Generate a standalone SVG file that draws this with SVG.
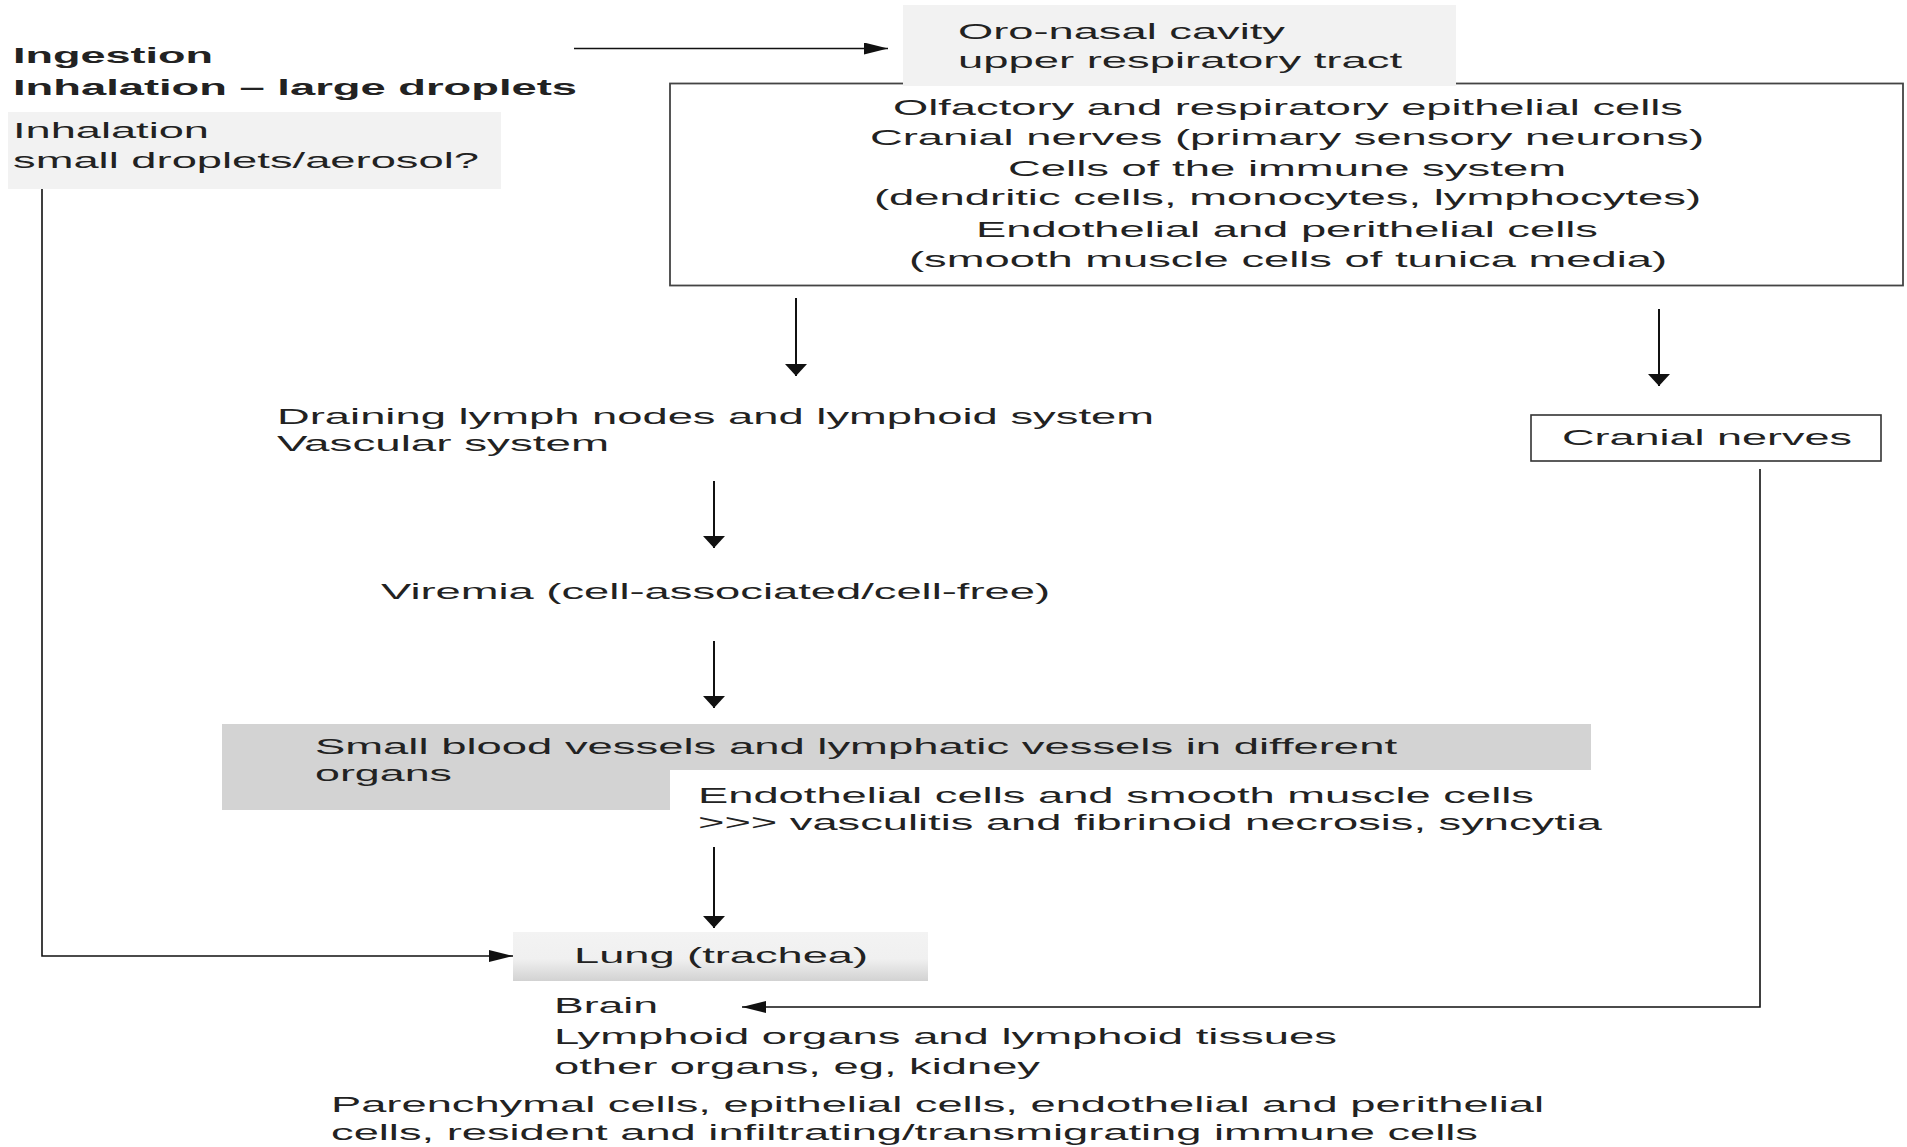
<svg xmlns="http://www.w3.org/2000/svg" width="1907" height="1147" viewBox="0 0 1907 1147">
<defs>
<style>
text{font-family:"Liberation Sans",Arial,sans-serif;font-size:22px;fill:#222}
.b{font-weight:bold}
.v{stroke:#111;stroke-width:2;fill:none}
.h{stroke:#111;stroke-width:1.4;fill:none}
.p{stroke:#111;stroke-width:1.6;fill:none}
</style>
<marker id="ah" markerUnits="userSpaceOnUse" viewBox="0 0 24 12" refX="24" refY="6" markerWidth="24" markerHeight="12" orient="auto"><path d="M0,0 L24,6 L0,12 Z" fill="#111"/></marker>
<marker id="av" markerUnits="userSpaceOnUse" viewBox="0 0 12 22" refX="12" refY="11" markerWidth="12" markerHeight="22" orient="auto"><path d="M0,0 L12,11 L0,22 Z" fill="#111"/></marker>
<linearGradient id="lg" x1="0" y1="0" x2="0" y2="1"><stop offset="0" stop-color="#f3f3f3"/><stop offset="0.55" stop-color="#f0f0f0"/><stop offset="1" stop-color="#d2d2d2"/></linearGradient>
</defs>
<rect width="1907" height="1147" fill="#fff"/>
<g id="ingestion">
<text class="b" x="13" y="63" textLength="200" lengthAdjust="spacingAndGlyphs">Ingestion</text>
<text class="b" x="13" y="95" textLength="564" lengthAdjust="spacingAndGlyphs">Inhalation – large droplets</text>
</g>
<g id="inhalation-small">
<rect x="8" y="112" width="493" height="77" fill="#f2f2f2"/>
<text x="13" y="138" textLength="196" lengthAdjust="spacingAndGlyphs">Inhalation</text>
<text x="13" y="167.5" textLength="466" lengthAdjust="spacingAndGlyphs">small droplets/aerosol?</text>
</g>
<g id="cells-box">
<rect x="670" y="83.5" width="1233" height="202" fill="#fff" stroke="#444" stroke-width="1.8"/>
<text x="893" y="114.7" textLength="790" lengthAdjust="spacingAndGlyphs">Olfactory and respiratory epithelial cells</text>
<text x="870" y="144.5" textLength="834" lengthAdjust="spacingAndGlyphs">Cranial nerves (primary sensory neurons)</text>
<text x="1008" y="175.5" textLength="558" lengthAdjust="spacingAndGlyphs">Cells of the immune system</text>
<text x="874" y="205" textLength="827" lengthAdjust="spacingAndGlyphs">(dendritic cells, monocytes, lymphocytes)</text>
<text x="976" y="236.5" textLength="622" lengthAdjust="spacingAndGlyphs">Endothelial and perithelial cells</text>
<text x="909" y="266.7" textLength="758" lengthAdjust="spacingAndGlyphs">(smooth muscle cells of tunica media)</text>
</g>
<g id="oro-nasal">
<rect x="903" y="5" width="553" height="81" fill="#f2f2f2"/>
<text x="958" y="38.5" textLength="327" lengthAdjust="spacingAndGlyphs">Oro-nasal cavity</text>
<text x="958" y="67.7" textLength="444" lengthAdjust="spacingAndGlyphs">upper respiratory tract</text>
</g>
<g id="draining">
<text x="277" y="424" textLength="877" lengthAdjust="spacingAndGlyphs">Draining lymph nodes and lymphoid system</text>
<text x="277" y="451" textLength="332" lengthAdjust="spacingAndGlyphs">Vascular system</text>
</g>
<g id="cranial-nerves">
<rect x="1531" y="415" width="350" height="46" fill="#fff" stroke="#333" stroke-width="1.6"/>
<text x="1562" y="445" textLength="290" lengthAdjust="spacingAndGlyphs">Cranial nerves</text>
</g>
<g id="viremia">
<text x="381" y="599" textLength="669" lengthAdjust="spacingAndGlyphs">Viremia (cell-associated/cell-free)</text>
</g>
<g id="small-vessels">
<path d="M222,724 H1591 V770 H670 V810 H222 Z" fill="#d3d3d3"/>
<text x="315" y="754" textLength="1082" lengthAdjust="spacingAndGlyphs">Small blood vessels and lymphatic vessels in different</text>
<text x="315" y="781" textLength="137" lengthAdjust="spacingAndGlyphs">organs</text>
</g>
<g id="endothelial">
<text x="698" y="803.3" textLength="836" lengthAdjust="spacingAndGlyphs">Endothelial cells and smooth muscle cells</text>
<text x="698" y="830" textLength="904" lengthAdjust="spacingAndGlyphs">&gt;&gt;&gt; vasculitis and fibrinoid necrosis, syncytia</text>
</g>
<g id="lung">
<rect x="513" y="932" width="415" height="49" fill="url(#lg)"/>
<text x="574" y="963.3" textLength="294" lengthAdjust="spacingAndGlyphs">Lung (trachea)</text>
</g>
<g id="organs">
<text x="554" y="1013.3" textLength="104" lengthAdjust="spacingAndGlyphs">Brain</text>
<text x="554" y="1044.3" textLength="783" lengthAdjust="spacingAndGlyphs">Lymphoid organs and lymphoid tissues</text>
<text x="554" y="1074.3" textLength="486" lengthAdjust="spacingAndGlyphs">other organs, eg, kidney</text>
</g>
<g id="cell-types">
<text x="331" y="1111.7" textLength="1213" lengthAdjust="spacingAndGlyphs">Parenchymal cells, epithelial cells, endothelial and perithelial</text>
<text x="331" y="1140" textLength="1147" lengthAdjust="spacingAndGlyphs">cells, resident and infiltrating/transmigrating immune cells</text>
</g>
<g id="connectors">
<path class="h" d="M574,48.5 H888" marker-end="url(#ah)"/>
<path class="v" d="M796,298 V376" marker-end="url(#av)"/>
<path class="v" d="M1659,309 V386" marker-end="url(#av)"/>
<path class="v" d="M714,481 V548" marker-end="url(#av)"/>
<path class="v" d="M714,641 V708" marker-end="url(#av)"/>
<path class="v" d="M714,847 V928" marker-end="url(#av)"/>
<path class="p" d="M42,189 V956 H513" marker-end="url(#ah)"/>
<path class="p" d="M1760,469 V1007 H742" marker-end="url(#ah)"/>
</g>
</svg>
